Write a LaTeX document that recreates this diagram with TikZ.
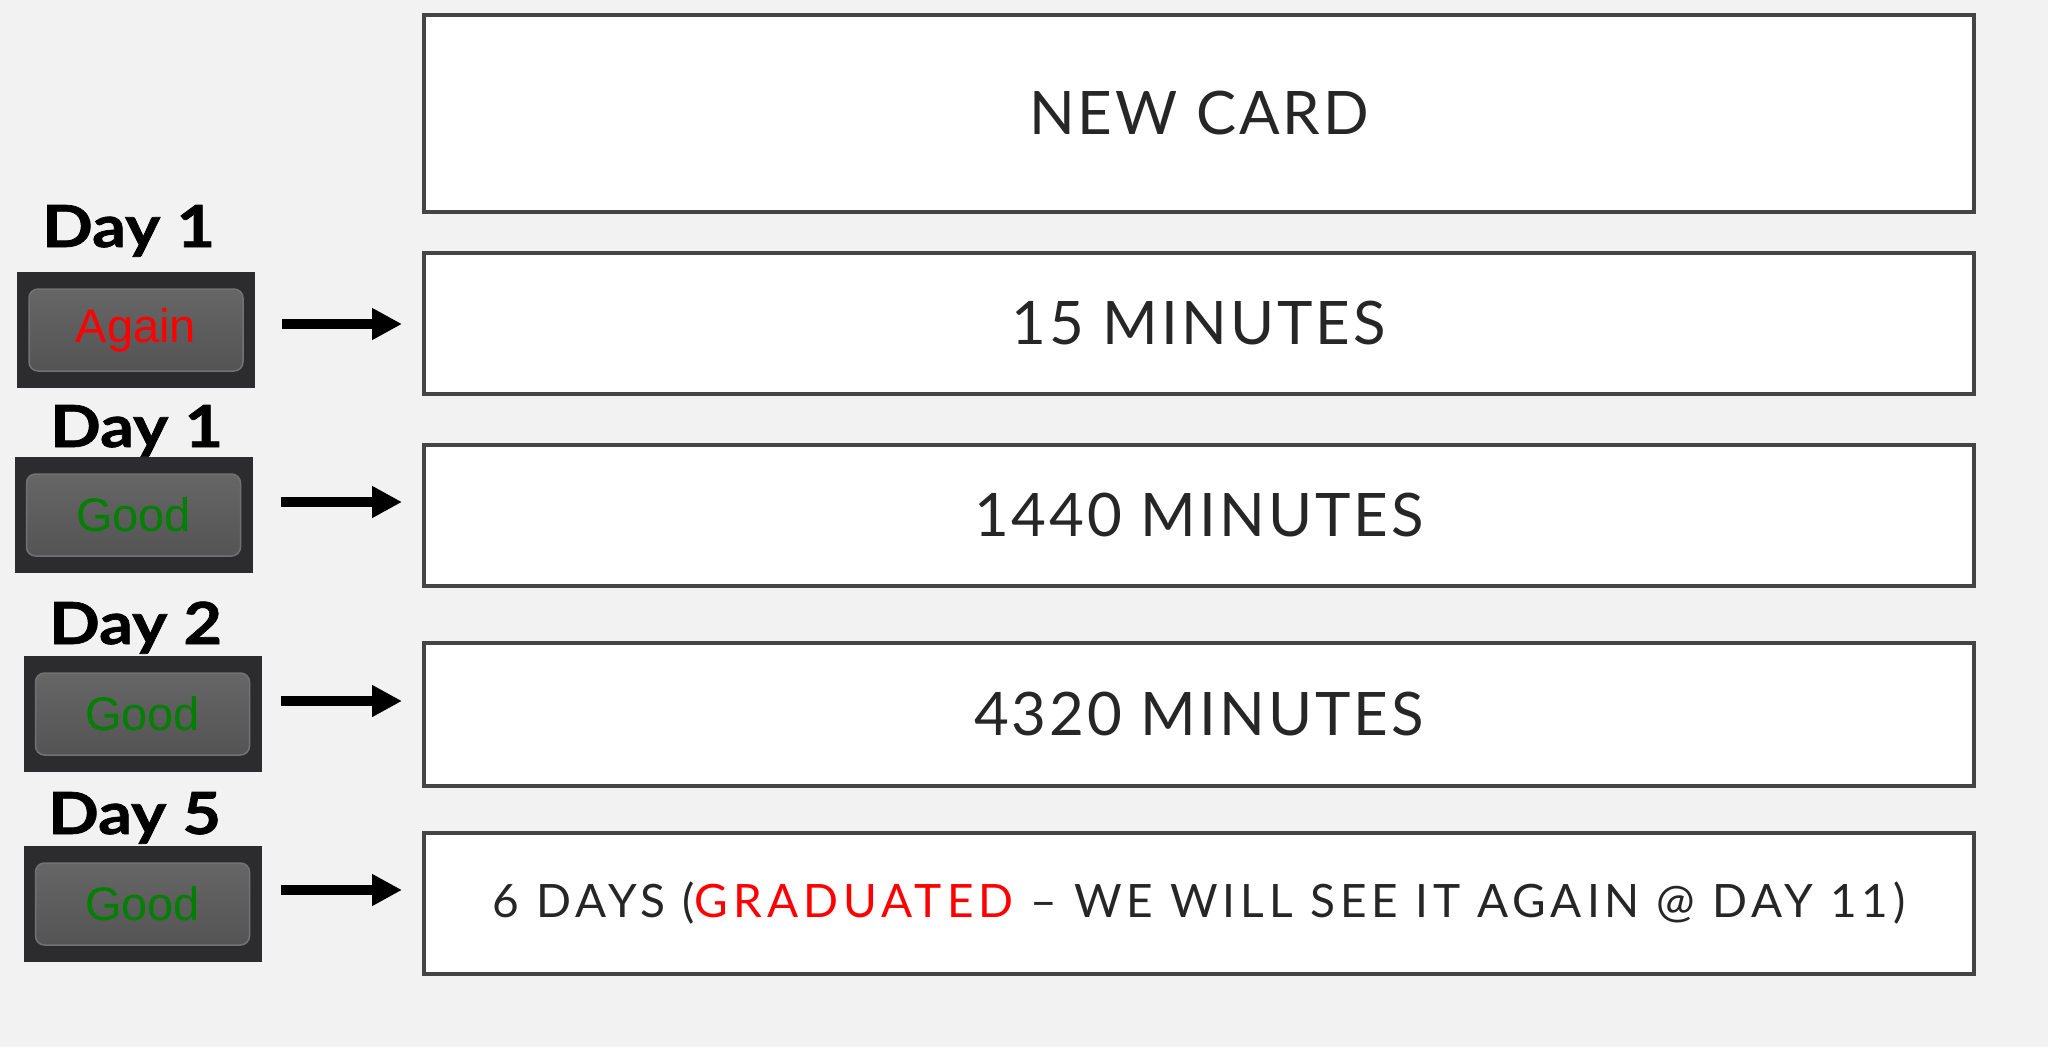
\documentclass[tikz,border=0pt]{standalone}
\usepackage{fontspec}
\setmainfont{Lato}
\newfontfamily\btnfont{Liberation Sans}
\usetikzlibrary{arrows.meta,positioning}

\definecolor{pagebg}{HTML}{F2F2F2}
\definecolor{boxline}{HTML}{444444}
\definecolor{boxtext}{HTML}{262626}
\definecolor{btnouter}{HTML}{2C2C2E}
\definecolor{btntop}{HTML}{666666}
\definecolor{btnbot}{HTML}{545454}
\definecolor{btnrim}{HTML}{727272}
\definecolor{goodgreen}{HTML}{008000}

\tikzset{
  card/.style={draw=boxline, line width=4pt, fill=white, minimum width=1550pt,
    text=boxtext, inner sep=0pt,
    font=\fontsize{60}{60}\selectfont\addfontfeatures{LetterSpace=5}},
  btnframe/.style={fill=btnouter, minimum width=238pt, minimum height=116pt, inner sep=0pt},
  btn/.style={rounded corners=9pt, top color=btntop, bottom color=btnbot, draw=btnrim,
    line width=1.5pt, minimum width=214pt, minimum height=82pt, inner sep=0pt,
    font=\btnfont\fontsize{47}{47}\selectfont},
  day/.style={anchor=base west, inner sep=0pt,
    font=\bfseries\fontsize{58}{58}\selectfont\addfontfeatures{FakeStretch=1.15,FakeBold=1.2}},
  arr/.style={-{Triangle[length=30pt,width=30pt]}, line width=10pt, shorten >=20pt}
}

\begin{document}
\begin{tikzpicture}[x=1pt, y=-1pt, node distance=40pt]
  \fill[pagebg] (0,0) rectangle (2048,1047);
  \useasboundingbox (0,0) rectangle (2048,1047);

  % interval cards
  \node[card, minimum height=197pt] (newcard) at (1199,113.5) {NEW CARD};
  \node[card, minimum height=141pt, below=37pt of newcard] (min15) {15 MINUTES};
  \node[card, minimum height=141pt, below=47pt of min15] (min1440) {1440 MINUTES};
  \node[card, minimum height=143pt, below=53pt of min1440] (min4320) {4320 MINUTES};
  \node[card, minimum height=141pt, below=43pt of min4320, font=\fontsize{46}{46}\selectfont\addfontfeatures{LetterSpace=11}] (grad)
    {6 DAYS ({\color{red}GRADUATED} -- WE WILL SEE IT AGAIN @ DAY 11)};

  % answer buttons
  \node[btnframe] (f1) at (136,330) {};
  \node[btn, text=red] (again) at (f1) {Again};
  \node[btnframe] (f2) at (133.5,515) {};
  \node[btn, text=goodgreen] (good1) at (f2) {Good};
  \node[btnframe] (f3) at (142.5,714) {};
  \node[btn, text=goodgreen] (good2) at (f3) {Good};
  \node[btnframe] (f4) at (142.5,904) {};
  \node[btn, text=goodgreen] (good3) at (f4) {Good};

  % day labels
  \node[day] (day1a) at (42,247) {Day 1};
  \node[day] (day1b) at (50,447) {Day 1};
  \node[day] (day2) at (49,644) {Day 2};
  \node[day] (day5) at (48,834) {Day 5};

  \draw[arr, shorten <=27pt] ([yshift=6pt]f1.east) -- ([yshift=6pt]f1.east -| min15.west);
  \draw[arr, shorten <=28pt] ([yshift=13pt]f2.east) -- ([yshift=13pt]f2.east -| min1440.west);
  \draw[arr, shorten <=19pt] ([yshift=13pt]f3.east) -- ([yshift=13pt]f3.east -| min4320.west);
  \draw[arr, shorten <=19pt] ([yshift=14pt]f4.east) -- ([yshift=14pt]f4.east -| grad.west);
\end{tikzpicture}
\end{document}
